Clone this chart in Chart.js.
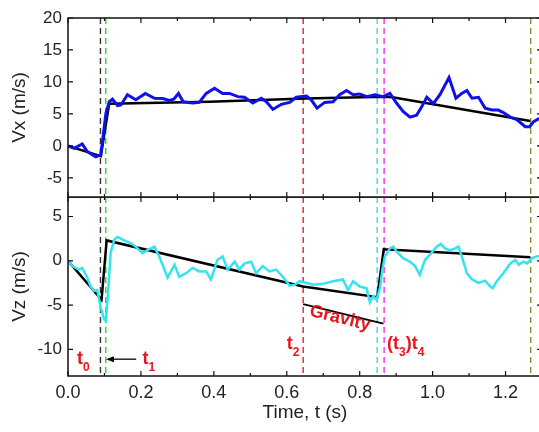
<!DOCTYPE html>
<html>
<head>
<meta charset="utf-8">
<script src="https://cdn.jsdelivr.net/npm/chart.js"></script>
<style>
html, body { margin:0; padding:0; background:#fff; overflow:hidden; width:539px; height:432px; }
canvas { position:absolute; left:0; }
#top { top:0; }
#bot { top:197px; }
</style>
</head>
<body>
<canvas id="top" width="542" height="198"></canvas>
<canvas id="bot" width="542" height="235"></canvas>

<script>
const xTicks = [0, 0.2, 0.4, 0.6, 0.8, 1.0, 1.2];
const xMinor = [0.1, 0.3, 0.5, 0.7, 0.9, 1.1, 1.3];
const vxTicks = [-5, 0, 5, 10, 15, 20];
const vzTicks = [-10, -5, 0, 5];

// Vx measured (blue)
const vxT = [0, 0.017, 0.039, 0.053, 0.076, 0.09, 0.104, 0.113, 0.122, 0.136, 0.145, 0.163, 0.186, 0.212, 0.237, 0.26, 0.278, 0.29, 0.303, 0.316, 0.342, 0.36, 0.379, 0.402, 0.424, 0.443, 0.466, 0.484, 0.507, 0.53, 0.544, 0.562, 0.585, 0.608, 0.626, 0.654, 0.667, 0.683, 0.704, 0.727, 0.745, 0.764, 0.782, 0.80, 0.819, 0.842, 0.864, 0.883, 0.901, 0.919, 0.938, 0.956, 0.97, 0.984, 1.002, 1.02, 1.045, 1.064, 1.08, 1.094, 1.108, 1.126, 1.144, 1.163, 1.18, 1.194, 1.213, 1.231, 1.254, 1.266, 1.277, 1.29, 1.3];
const vx = [0, -0.4, 0.3, -0.9, -1.7, -1.4, 5.1, 6.9, 7.3, 6.3, 6.4, 8.0, 7.2, 8.2, 7.45, 7.4, 7.1, 7.3, 8.2, 6.9, 6.7, 6.8, 8.2, 9.0, 8.2, 8.2, 7.7, 7.6, 6.7, 7.45, 6.9, 5.7, 6.5, 6.8, 7.6, 7.8, 7.2, 5.9, 6.8, 6.9, 8.0, 8.65, 8.0, 8.1, 7.7, 8.0, 7.7, 8.2, 6.7, 5.4, 4.5, 4.8, 6.1, 7.6, 6.6, 8.0, 10.7, 7.45, 8.2, 8.65, 7.45, 7.6, 5.9, 5.6, 5.6, 5.2, 4.5, 4.1, 3.0, 3.0, 3.8, 4.2, 4.3];

// Vx fit (black)
const fitVxT = [0, 0.09, 0.113, 0.388, 0.65, 0.87, 0.89, 1.268];
const fitVx = [0, -1.6, 6.6, 6.9, 7.4, 7.7, 7.6, 3.9];

// Vz measured (cyan)
const vzT = [0, 0.012, 0.03, 0.039, 0.053, 0.062, 0.072, 0.08, 0.09, 0.099, 0.104, 0.111, 0.117, 0.127, 0.136, 0.154, 0.172, 0.186, 0.204, 0.218, 0.237, 0.25, 0.273, 0.292, 0.305, 0.324, 0.342, 0.36, 0.379, 0.392, 0.41, 0.424, 0.438, 0.457, 0.47, 0.484, 0.502, 0.516, 0.534, 0.553, 0.571, 0.589, 0.608, 0.622, 0.635, 0.654, 0.672, 0.699, 0.727, 0.754, 0.768, 0.782, 0.80, 0.819, 0.828, 0.837, 0.846, 0.856, 0.862, 0.869, 0.883, 0.892, 0.901, 0.919, 0.938, 0.952, 0.965, 0.979, 0.997, 1.011, 1.022, 1.034, 1.048, 1.062, 1.071, 1.08, 1.094, 1.108, 1.126, 1.144, 1.158, 1.165, 1.176, 1.194, 1.213, 1.227, 1.236, 1.249, 1.259, 1.273, 1.286, 1.3];
const vz = [0, -0.6, -1.0, -0.8, -1.9, -2.9, -3.4, -3.3, -5.3, -6.6, -6.8, -2.9, 0.9, 2.4, 2.7, 2.3, 2.0, 1.6, 0.86, 1.2, 1.6, 0.5, -1.9, -0.45, -1.8, -1.4, -0.8, -1.2, -1.2, -2.1, 0.1, 0.5, -1.0, -0.1, -1.0, -0.3, -0.1, -1.4, -0.6, -1.2, -1.0, -1.8, -2.8, -2.7, -2.3, -2.5, -2.7, -2.6, -2.3, -2.1, -3.3, -2.3, -2.9, -3.1, -4.7, -4.0, -4.4, -3.0, -1.0, 0.5, 1.4, 1.6, 1.05, 0.3, -0.1, -0.6, -1.6, 0.1, 0.9, 1.6, 1.9, 1.4, 1.2, 1.4, 1.6, 0.5, -1.4, -2.1, -2.5, -2.25, -2.9, -3.1, -2.3, -1.4, -0.3, 0.1, -0.45, -0.1, -0.3, 0.3, 0.5, 0.6];

// Vz fit (black) and gravity slope
const fitVzT = [0, 0.092, 0.106, 0.645, 0.848, 0.866, 1.268];
const fitVz = [0, -4.4, 2.3, -2.9, -4.1, 1.3, 0.4];
const gravT = [0.645, 0.865];
const gravV = [-4.9, -7.1];

// event times (dashed lines)
const markT = [0.089, 0.1035, 0.645, 0.848, 0.867, 1.269];
const markColor = ['#333333', '#22dd22', '#e8202a', '#33e0e8', '#ee30ee', '#8f8f30'];

// red labels on the lower panel
const noteT = [0.025, 0.204, 0.60, 0.875];
const noteV = [-11.7, -11.7, -9.9, -10.0];
const noteParts = [
  [['t', 0], ['0', 1]],
  [['t', 0], ['1', 1]],
  [['t', 0], ['2', 1]],
  [['(t', 0], ['3', 1], [')t', 0], ['4', 1]]
];
const arrowT = [0.187, 0.104];
const arrowV = -11.1;
const gravLabelT = 0.66, gravLabelV = -6.2;

const FONT = '"Liberation Sans", Arial, sans-serif';
const RED = '#e8141e';

function pts(ts, vs) {
  return ts.map((t, i) => ({x: t, y: vs[i]}));
}

// dashed event lines behind the data
const marks = {
  id: 'marks',
  beforeDatasetsDraw(chart) {
    const {ctx, chartArea: a, scales: {x}} = chart;
    ctx.save();
    ctx.lineWidth = 1.4;
    ctx.setLineDash([6, 4]);
    markT.forEach((t, i) => {
      const px = x.getPixelForValue(t);
      ctx.strokeStyle = markColor[i];
      ctx.beginPath();
      ctx.moveTo(px, a.top);
      ctx.lineTo(px, a.bottom);
      ctx.stroke();
    });
    ctx.restore();
  }
};

// box + inward ticks
const frame = {
  id: 'frame',
  afterDatasetsDraw(chart, args, opts) {
    const {ctx, chartArea: a, scales: {x, y}} = chart;
    ctx.save();
    ctx.strokeStyle = '#111';
    ctx.lineWidth = 1.5;
    ctx.strokeRect(a.left, a.top, a.right - a.left, a.bottom - a.top);
    ctx.lineWidth = 1.2;
    ctx.beginPath();
    xTicks.forEach(t => {
      const px = x.getPixelForValue(t);
      ctx.moveTo(px, a.top); ctx.lineTo(px, a.top + 5);
      ctx.moveTo(px, a.bottom); ctx.lineTo(px, a.bottom - 5);
    });
    xMinor.forEach(t => {
      const px = x.getPixelForValue(t);
      ctx.moveTo(px, a.top); ctx.lineTo(px, a.top + 3);
      ctx.moveTo(px, a.bottom); ctx.lineTo(px, a.bottom - 3);
    });
    opts.yTicks.forEach(v => {
      const py = y.getPixelForValue(v);
      ctx.moveTo(a.left, py); ctx.lineTo(a.left + 5, py);
      ctx.moveTo(a.right, py); ctx.lineTo(a.right - 5, py);
    });
    ctx.stroke();
    ctx.restore();
  }
};

function drawParts(ctx, x, y, parts) {
  parts.forEach(p => {
    if (p[1]) {
      ctx.font = 'bold 12px ' + FONT;
      ctx.fillText(p[0], x, y + 7);
    } else {
      ctx.font = 'bold 18px ' + FONT;
      ctx.fillText(p[0], x, y);
    }
    x += ctx.measureText(p[0]).width;
  });
}

// t0..t4, arrow, Gravity
const notes = {
  id: 'notes',
  afterDatasetsDraw(chart) {
    const {ctx, scales: {x, y}} = chart;
    ctx.save();
    ctx.fillStyle = RED;
    ctx.textBaseline = 'alphabetic';
    noteParts.forEach((parts, i) => {
      drawParts(ctx, x.getPixelForValue(noteT[i]), y.getPixelForValue(noteV[i]), parts);
    });

    ctx.translate(x.getPixelForValue(gravLabelT), y.getPixelForValue(gravLabelV));
    ctx.rotate(0.24);
    ctx.font = 'bold 18px ' + FONT;
    ctx.fillText('Gravity', 0, 0);
    ctx.restore();

    // arrow to t1
    const x0 = x.getPixelForValue(arrowT[0]), x1 = x.getPixelForValue(arrowT[1]);
    const ay = y.getPixelForValue(arrowV);
    ctx.save();
    ctx.strokeStyle = '#000';
    ctx.fillStyle = '#000';
    ctx.lineWidth = 1.3;
    ctx.beginPath();
    ctx.moveTo(x0, ay); ctx.lineTo(x1 + 6, ay);
    ctx.stroke();
    ctx.beginPath();
    ctx.moveTo(x1, ay); ctx.lineTo(x1 + 8, ay - 3); ctx.lineTo(x1 + 8, ay + 3);
    ctx.closePath();
    ctx.fill();
    ctx.restore();
  }
};

function yAxis(lo, hi, ticks, title) {
  return {
    min: lo, max: hi,
    afterBuildTicks: s => { s.ticks = ticks.map(v => ({value: v})); },
    afterFit: s => { s.width = 68; s.paddingTop = 0; s.paddingBottom = 0; },
    grid: {display: false, drawTicks: false},
    border: {display: false},
    ticks: {padding: 6, color: '#222', font: {family: FONT, size: 17}},
    title: {display: true, text: title, color: '#222', font: {family: FONT, size: 19}, padding: {top: 8, bottom: 0}}
  };
}

const common = {
  responsive: false,
  animation: false,
  elements: {point: {radius: 0}, line: {tension: 0}},
  events: []
};

new Chart(document.getElementById('top'), {
  type: 'line',
  data: {
    datasets: [
      {data: pts(vxT, vx), borderColor: '#1010e8', borderWidth: 3},
      {data: pts(fitVxT, fitVx), borderColor: '#000', borderWidth: 2.5}
    ]
  },
  options: Object.assign({}, common, {
    layout: {padding: {top: 18, bottom: 1, left: 0, right: 0}},
    plugins: {legend: {display: false}, tooltip: {enabled: false}, frame: {yTicks: vxTicks}},
    scales: {
      x: {type: 'linear', min: 0, max: 1.3, display: false},
      y: yAxis(-8, 20, vxTicks, 'Vx (m/s)')
    }
  }),
  plugins: [marks, frame]
});

new Chart(document.getElementById('bot'), {
  type: 'line',
  data: {
    datasets: [
      {data: pts(vzT, vz), borderColor: '#33e4f0', borderWidth: 2.5},
      {data: pts(fitVzT, fitVz), borderColor: '#000', borderWidth: 2.5},
      {data: pts(gravT, gravV), borderColor: '#000', borderWidth: 1.8}
    ]
  },
  options: Object.assign({}, common, {
    layout: {padding: {top: 0, bottom: 0, left: 0, right: 0}},
    plugins: {legend: {display: false}, tooltip: {enabled: false}, frame: {yTicks: vzTicks}},
    scales: {
      x: {
        type: 'linear', min: 0, max: 1.3,
        afterBuildTicks: s => { s.ticks = xTicks.map(v => ({value: v})); },
        afterFit: s => { s.height = 56; s.paddingLeft = 0; s.paddingRight = 0; },
        grid: {display: false, drawTicks: false},
        border: {display: false},
        ticks: {padding: 6, color: '#222', font: {family: FONT, size: 18}, maxRotation: 0, callback: v => v.toFixed(1)},
        title: {display: true, text: 'Time, t (s)', color: '#222', font: {family: FONT, size: 19}, padding: {top: 0, bottom: 8}}
      },
      y: yAxis(-13, 7.2, vzTicks, 'Vz (m/s)')
    }
  }),
  plugins: [marks, frame, notes]
});
</script>
</body>
</html>
